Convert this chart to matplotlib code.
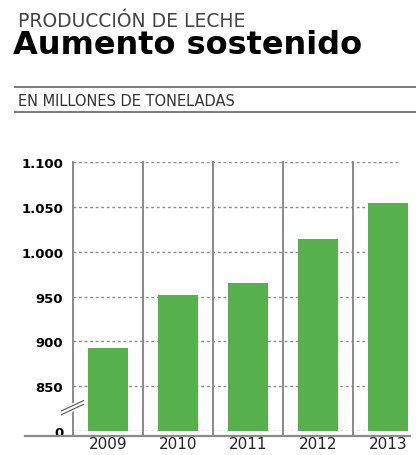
import matplotlib.pyplot as plt
import numpy as np
from matplotlib.lines import Line2D
from matplotlib.ticker import FixedLocator, FixedFormatter

# values (millions of tonnes)
years = ["2009", "2010", "2011", "2012", "2013"]
production = [892, 952, 965, 1014, 1054]
tick_values = [0, 850, 900, 950, 1000, 1050, 1100]
tick_labels = ["0", "850", "900", "950", "1.000", "1.050", "1.100"]

GREEN = "#56b14c"
GRID = "#8c8c8c"
W, H = 416, 456


def fx(px):
    return px / W


def fy(py):
    return 1 - py / H


# broken axis: 0..850 squeezed into one 50-unit step
def forward(v):
    v = np.asarray(v, dtype=float)
    return np.where(v >= 850, v, 800 + v * 50 / 850)


def inverse(y):
    y = np.asarray(y, dtype=float)
    return np.where(y >= 850, y, (y - 800) * 850 / 50)


fig = plt.figure(figsize=(W / 100, H / 100), dpi=100)
fig.patch.set_facecolor("white")

# header
fig.text(fx(18), fy(27), "PRODUCCIÓN DE LECHE", fontsize=13.5, color="#444444",
         va="baseline", ha="left")
fig.text(fx(13), fy(54), "Aumento sostenido", fontsize=23, fontweight="bold",
         color="black", va="baseline", ha="left")
fig.add_artist(Line2D([fx(15), 1], [fy(88), fy(88)], color="#7a7a7a", lw=1.4))
fig.text(fx(18), fy(106.5), "EN MILLONES DE TONELADAS", fontsize=10.5,
         color="#333333", va="baseline", ha="left")
fig.add_artist(Line2D([fx(15), 1], [fy(113), fy(113)], color="#7a7a7a", lw=1.4))

# chart area
left, right, top, bottom = 73, 410, 163.3, 431.7
ax = fig.add_axes([fx(left), fy(bottom), (right - left) / W, (bottom - top) / H])
ax.set_yscale("function", functions=(forward, inverse))
ax.set_ylim(0, 1100)
ax.set_xlim(-0.5, 4.31)

x = np.arange(len(years))
ax.bar(x, production, width=0.57, color=GREEN, zorder=3)

for v in tick_values:
    ax.axhline(v, xmax=0.97, color=GRID, lw=1.0, ls=(0, (2, 2)), zorder=1)

for b in np.arange(-0.5, 4.0, 1.0):
    ax.axvline(b, ymin=-0.02, ymax=1, color="#8a8a8a", lw=1.4, zorder=2,
               clip_on=False)

for s in ax.spines.values():
    s.set_visible(False)

ax.yaxis.set_major_locator(FixedLocator(tick_values))
ax.yaxis.set_major_formatter(FixedFormatter(tick_labels))
ax.yaxis.set_minor_locator(FixedLocator([]))
ax.tick_params(axis="y", length=0, pad=7, labelsize=9.5)
for lbl in ax.get_yticklabels():
    lbl.set_fontweight("heavy")

ax.set_xticks(x)
ax.set_xticklabels(years)
ax.tick_params(axis="x", length=0, pad=4, labelsize=11, labelcolor="#222222")

# baseline under the bars, running under the tick labels
fig.add_artist(Line2D([fx(25), fx(410)], [fy(436.5), fy(436.5)], color="#8a8a8a",
                      lw=1.6))

# axis break mark
for dy in (0.0, 0.014):
    ax.plot([-0.034, 0.031], [0.060 + dy, 0.098 + dy], transform=ax.transAxes,
            color="white", lw=3, clip_on=False, zorder=4)
for dy in (0.0, 0.014):
    ax.plot([-0.034, 0.031], [0.060 + dy, 0.098 + dy], transform=ax.transAxes,
            color="#666666", lw=0.9, clip_on=False, zorder=5)

fig.savefig("out.png", dpi=100, facecolor="white")
